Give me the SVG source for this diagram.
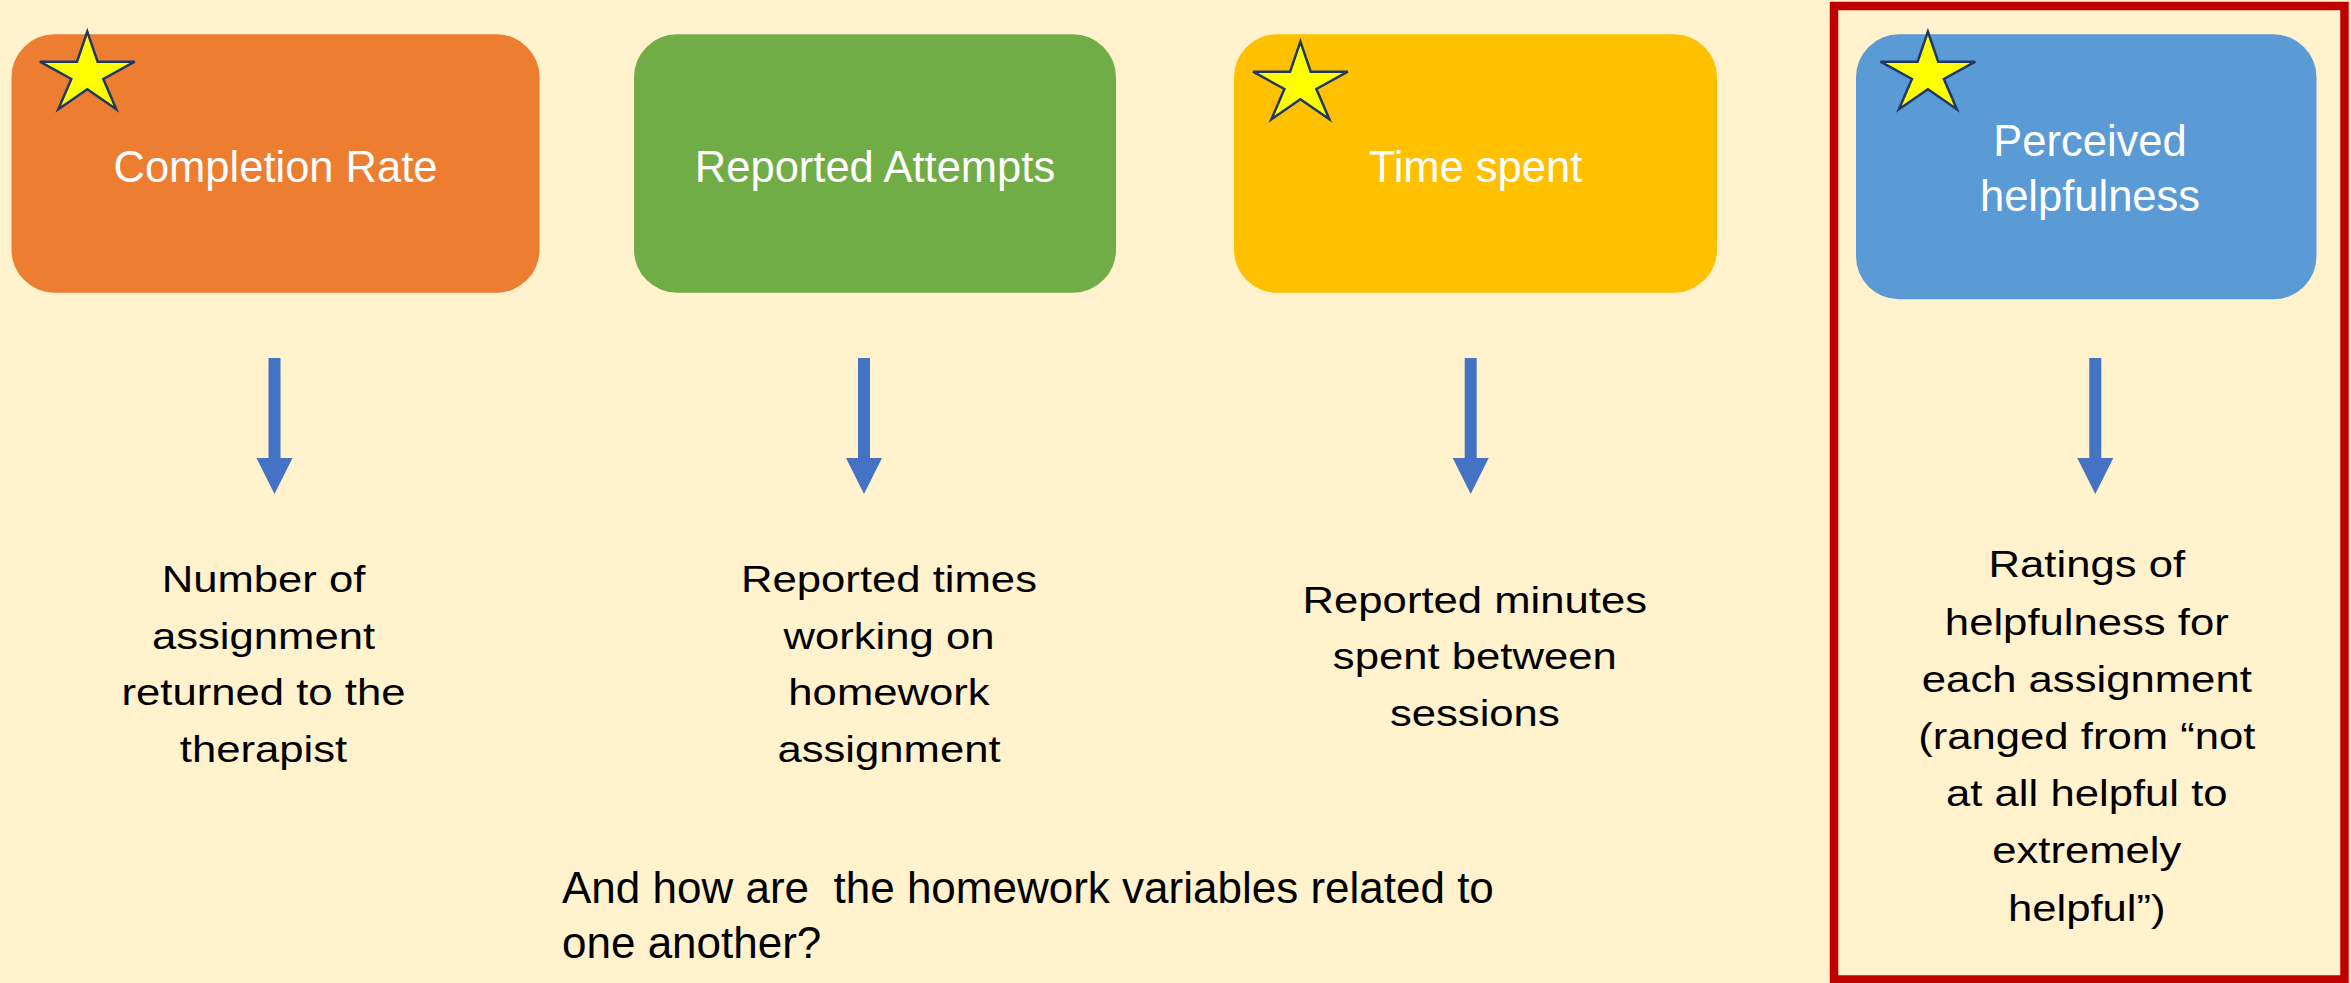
<svg xmlns="http://www.w3.org/2000/svg" xmlns:xlink="http://www.w3.org/1999/xlink" width="2351" height="983" viewBox="0 0 2351 983">
  <style>
    .title { font-family: "Liberation Sans", Arial, sans-serif; font-size: 43.5px; fill: #FFFFFF; text-anchor: middle; }
    .body { font-family: "Liberation Sans", Arial, sans-serif; font-size: 37px; fill: #000000; text-anchor: middle; }
    .note { font-family: "Liberation Sans", Arial, sans-serif; font-size: 44px; fill: #000000; white-space: pre; }
    .star { fill: #FFFF00; stroke: #1F3864; stroke-width: 2.5; stroke-linejoin: miter; }
    .arrow { fill: #4472C4; }
  </style>
  <defs>
    <path id="star5" class="star" d="M0,0 L10.3,30 L47.4,30 L16,47.3 L29,77.6 L0,57.6 L-29,77.6 L-16,47.3 L-47.4,30 L-10.3,30 Z"/>
    <path id="downArrow" class="arrow" d="M-6,0 L6,0 L6,100 L18,100 L0,136 L-18,100 L-6,100 Z"/>
  </defs>

  <!-- page background -->
  <rect x="0" y="0" width="2351" height="983" fill="#FFF2CC"/>

  <!-- highlight frame around the helpfulness column -->
  <rect id="highlight-frame" x="1834" y="6" width="510.5" height="973.5" fill="none" stroke="#C00000" stroke-width="8.5"/>

  <!-- header nodes -->
  <g id="node-completion">
    <rect x="11.5" y="34.3" width="528" height="258.4" rx="43" ry="43" fill="#ED7D31"/>
    <use xlink:href="#star5" href="#star5" transform="translate(87.3,31.7)"/>
    <text class="title" x="275.5" y="181.7">Completion Rate</text>
  </g>

  <g id="node-attempts">
    <rect x="634" y="34.3" width="482" height="258.4" rx="43" ry="43" fill="#70AD47"/>
    <text class="title" x="875" y="181.7">Reported Attempts</text>
  </g>

  <g id="node-time">
    <rect x="1234" y="34.3" width="483" height="258.4" rx="43" ry="43" fill="#FFC000"/>
    <use xlink:href="#star5" href="#star5" transform="translate(1300.4,41.7)"/>
    <text class="title" x="1475.5" y="181.7">Time spent</text>
  </g>

  <g id="node-helpfulness">
    <rect x="1856" y="34.3" width="460.5" height="265" rx="43" ry="43" fill="#5B9BD5"/>
    <use xlink:href="#star5" href="#star5" transform="translate(1927.9,31.7)"/>
    <text class="title" x="2090" y="155.7">Perceived</text>
    <text class="title" x="2090" y="210.7">helpfulness</text>
  </g>

  <!-- connectors: header to description -->
  <g id="connectors">
    <use xlink:href="#downArrow" href="#downArrow" transform="translate(274.5,358)"/>
    <use xlink:href="#downArrow" href="#downArrow" transform="translate(864,358)"/>
    <use xlink:href="#downArrow" href="#downArrow" transform="translate(1470.7,358)"/>
    <use xlink:href="#downArrow" href="#downArrow" transform="translate(2095.3,358)"/>
  </g>

  <!-- descriptions -->
  <g id="desc-completion" transform="translate(263.5,0) scale(1.18,1)">
    <text class="body" x="0" y="592.3">Number of</text>
    <text class="body" x="0" y="648.8">assignment</text>
    <text class="body" x="0" y="705.3">returned to the</text>
    <text class="body" x="0" y="761.8">therapist</text>
  </g>

  <g id="desc-attempts" transform="translate(889,0) scale(1.18,1)">
    <text class="body" x="0" y="592.3">Reported times</text>
    <text class="body" x="0" y="648.8">working on</text>
    <text class="body" x="0" y="705.3">homework</text>
    <text class="body" x="0" y="761.8">assignment</text>
  </g>

  <g id="desc-time" transform="translate(1474.8,0) scale(1.18,1)">
    <text class="body" x="0" y="613.3">Reported minutes</text>
    <text class="body" x="0" y="669.5">spent between</text>
    <text class="body" x="0" y="725.7">sessions</text>
  </g>

  <g id="desc-helpfulness" transform="translate(2086.8,0) scale(1.18,1)">
    <text class="body" x="0" y="577.5">Ratings of</text>
    <text class="body" x="0" y="634.7">helpfulness for</text>
    <text class="body" x="0" y="691.9">each assignment</text>
    <text class="body" x="0" y="749.1">(ranged from “not</text>
    <text class="body" x="0" y="806.3">at all helpful to</text>
    <text class="body" x="0" y="863.5">extremely</text>
    <text class="body" x="0" y="920.7">helpful”)</text>
  </g>

  <!-- closing question -->
  <g id="question">
    <text class="note" x="562" y="902.7">And how are  the homework variables related to</text>
    <text class="note" x="562" y="958.3">one another?</text>
  </g>
</svg>
